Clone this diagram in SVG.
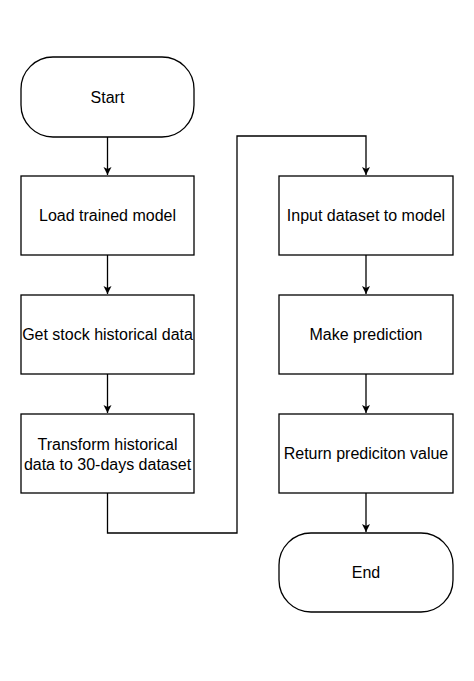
<svg xmlns="http://www.w3.org/2000/svg" width="474" height="681" viewBox="0 0 474 681">
<defs>
<marker id="arr" markerWidth="10" markerHeight="10" refX="8" refY="4" orient="auto" markerUnits="userSpaceOnUse">
<path d="M0,0 L8,4 L0,8 L2,4 Z" fill="#000"/>
</marker>
<style>
.n{fill:#fff;stroke:#000;stroke-width:1.3}
.t{font-family:"Liberation Sans",Arial,sans-serif;font-size:16px;fill:#000;text-anchor:middle;dominant-baseline:central}
.c{fill:none;stroke:#000;stroke-width:1.3;marker-end:url(#arr)}
</style>
</defs>
<rect width="474" height="681" fill="#fff"/>
<g id="connectors">
<path class="c" d="M107.5,137 V175"/>
<path class="c" d="M107.5,255 V294"/>
<path class="c" d="M107.5,374 V413"/>
<path class="c" d="M107.5,493 V533 H237 V136 H366 V175"/>
<path class="c" d="M366,255 V294"/>
<path class="c" d="M366,374 V413"/>
<path class="c" d="M366,493 V532"/>
</g>
<g id="start"><rect class="n" x="21" y="57" width="173" height="80" rx="32"/><text class="t" x="107.5" y="97">Start</text></g>
<g id="load"><rect class="n" x="21" y="176" width="173" height="79"/><text class="t" x="107.5" y="215.5">Load trained model</text></g>
<g id="get"><rect class="n" x="21" y="295" width="173" height="79"/><text class="t" x="107.5" y="334.5">Get stock historical data</text></g>
<g id="transform"><rect class="n" x="21" y="414" width="173" height="79"/><text class="t" x="107.5" y="444">Transform historical</text><text class="t" x="107.5" y="464">data to 30-days dataset</text></g>
<g id="input"><rect class="n" x="279" y="176" width="174" height="79"/><text class="t" x="366" y="215.5">Input dataset to model</text></g>
<g id="predict"><rect class="n" x="279" y="295" width="174" height="79"/><text class="t" x="366" y="334.5">Make prediction</text></g>
<g id="return"><rect class="n" x="279" y="414" width="174" height="79"/><text class="t" x="366" y="453.5">Return prediciton value</text></g>
<g id="end"><rect class="n" x="279" y="533" width="174" height="79" rx="32"/><text class="t" x="366" y="572.5">End</text></g>
</svg>
